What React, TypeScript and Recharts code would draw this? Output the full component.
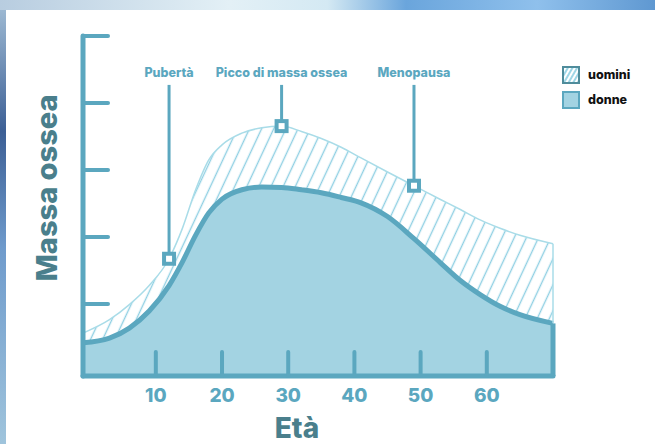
import React from "react";
import {
  ComposedChart, Area, XAxis, YAxis, ReferenceLine, ReferenceDot, Legend,
} from "recharts";

const ages = [-1, 3, 6, 9, 12, 14, 16, 18, 20, 23, 26, 29, 32, 35, 38, 41, 45, 49, 53, 56, 59, 62, 65, 70];
const uomini = [11.3, 15.3, 19.8, 25.5, 33.5, 42.5, 54, 63, 67.5, 71, 72.6, 73.1, 71.5, 69.4, 66.8, 63.6, 59.4, 55.3, 51.2, 48.2, 45.1, 42.6, 40.5, 38];
const donne = [8.4, 9.8, 12.8, 17.9, 25.5, 32.5, 40.5, 47.2, 51.3, 54.1, 54.9, 54.8, 54.1, 53.2, 51.8, 50.2, 46.1, 39.5, 32.3, 27, 22.8, 19.3, 16.8, 14.2];

const xTicks = [10, 20, 30, 40, 50, 60];
const yTicks = [20, 40, 60, 80, 100];
const seriesOrder = ["uomini", "donne"];
const markers = [
  { label: "Pubertà", age: 12 },
  { label: "Picco di massa ossea", age: 29 },
  { label: "Menopausa", age: 49 },
];
const LEADER_TOP = 85.4;
const Y_MIN = -1.5;

const data = ages.map((age, i) => ({ age, uomini: uomini[i], donne: donne[i] }));

const TEAL = "#5ba7bf";
const FILL = "#a3d3e2";
const LIGHT = "#a9dce8";
const DARK = "#4a7f8c";
const FONT = "Inter, 'Open Sans', sans-serif";

const XTick = ({ x, y, payload }: any) => (
  <g>
    <line x1={x} x2={x} y1={y} y2={y - 24} stroke={TEAL} strokeWidth={4} strokeLinecap="round" />
    <text x={x} y={y + 26} textAnchor="middle" fill={TEAL} fontSize={19} fontWeight={800} fontFamily={FONT}>
      {payload.value}
    </text>
  </g>
);

const YTick = ({ x, y }: any) => (
  <line x1={x} x2={x + 25} y1={y} y2={y} stroke={TEAL} strokeWidth={4} strokeLinecap="round" />
);

const Square = ({ cx, cy }: any) => (
  <rect x={cx - 5} y={cy - 5} width={10} height={10} fill="#fff" stroke={TEAL} strokeWidth={4} />
);

const YTitle = ({ viewBox }: any) => {
  const cx = viewBox.x + viewBox.width - 37;
  const cy = viewBox.y + viewBox.height / 2 - 18;
  return (
    <text x={cx} y={cy} transform={`rotate(-90 ${cx} ${cy})`} textAnchor="middle" dominantBaseline="central"
      fill={DARK} fontSize={29} fontWeight={800} fontFamily={FONT}>
      Massa ossea
    </text>
  );
};

const XTitle = ({ viewBox }: any) => {
  const cx = viewBox.x + viewBox.width / 2 - 21;
  return (
    <text x={cx} y={viewBox.y + 52} textAnchor="middle" dominantBaseline="central"
      fill={DARK} fontSize={28} fontWeight={800} fontFamily={FONT}>
      Età
    </text>
  );
};

const LegendBox = ({ payload }: any) => {
  const items = [...(payload || [])].sort(
    (a: any, b: any) => seriesOrder.indexOf(a.dataKey) - seriesOrder.indexOf(b.dataKey)
  );
  return (
    <div style={{ fontFamily: FONT }}>
      {items.map((p: any) => (
        <div key={p.value} style={{ display: "flex", alignItems: "center", height: 25 }}>
          <svg width={18} height={18} style={{ marginRight: 8 }}>
            <defs>
              <pattern id="legendHatch" width="4" height="4" patternUnits="userSpaceOnUse" patternTransform="rotate(30)">
                <rect width="4" height="4" fill="#fff" />
                <line x1="2" y1="0" x2="2" y2="4" stroke="#9ed6e6" strokeWidth="2" />
              </pattern>
            </defs>
            {p.dataKey === "uomini" ? (
              <rect x={1} y={1} width={16} height={16} fill="url(#legendHatch)" stroke="#4f8c9b" strokeWidth={2} />
            ) : (
              <rect x={1} y={1} width={16} height={16} fill={FILL} stroke={TEAL} strokeWidth={2} />
            )}
          </svg>
          <span style={{ fontSize: 12.5, fontWeight: 800, color: "#111" }}>{p.value}</span>
        </div>
      ))}
    </div>
  );
};

export default function App() {
  const lastU = uomini[uomini.length - 1];
  const lastD = donne[donne.length - 1];
  const lastAge = ages[ages.length - 1];
  return (
    <div style={{
      position: "absolute", left: 0, top: 0, width: 655, height: 444, overflow: "hidden",
      background: "linear-gradient(90deg, #b8cde0 0%, #e3f0f6 35%, #d4e9f3 50%, #6aa5dc 62%, #8fc0ec 82%, #5f98d1 100%)",
    }}>
      <div style={{
        position: "absolute", left: 0, top: 10, width: 6, height: 434,
        background: "linear-gradient(180deg, #9cb8d2 0%, #3c5f95 28%, #6f9bcc 55%, #9fc4dc 100%)",
      }} />
      <div style={{ position: "absolute", left: 6, top: 10, width: 649, height: 434, background: "#fff" }} />
      <div style={{ position: "absolute", left: 0, top: 0 }}>
        <ComposedChart width={655} height={444} data={data} margin={{ top: 36, right: 102, bottom: 8, left: 43 }}>
          <defs>
            <pattern id="hatch" width="11" height="11" patternUnits="userSpaceOnUse" patternTransform="rotate(25)">
              <rect width="11" height="11" fill="#fff" />
              <line x1="5.5" y1="0" x2="5.5" y2="11" stroke="#8fd0e3" strokeWidth="1.4" />
            </pattern>
          </defs>
          <Area
            type="monotone" dataKey="uomini" name="uomini"
            stroke={LIGHT} strokeWidth={1.5} fill="url(#hatch)" fillOpacity={1}
            baseValue="dataMin" isAnimationActive={false}
          />
          <Area
            type="monotone" dataKey="donne" name="donne"
            stroke={TEAL} strokeWidth={5} fill={FILL} fillOpacity={1}
            baseValue="dataMin" isAnimationActive={false}
          />
          <ReferenceLine segment={[{ x: lastAge, y: lastD }, { x: lastAge, y: lastU }]} stroke={LIGHT} strokeWidth={1.5} />
          <ReferenceLine segment={[{ x: lastAge, y: Y_MIN }, { x: lastAge, y: lastD }]} stroke={TEAL} strokeWidth={5} />
          {markers.map((m) => {
            const u = uomini[ages.indexOf(m.age)];
            return (
              <ReferenceLine
                key={m.label}
                segment={[{ x: m.age, y: u }, { x: m.age, y: LEADER_TOP }]}
                stroke={TEAL} strokeWidth={3}
                label={{ value: m.label, position: "top", offset: 8, fill: TEAL, fontSize: 12.5, fontWeight: 800, fontFamily: FONT }}
              />
            );
          })}
          {markers.map((m) => (
            <ReferenceDot key={m.label} x={m.age} y={uomini[ages.indexOf(m.age)]} shape={Square} />
          ))}
          <XAxis
            type="number" dataKey="age" domain={[-1, 70]} ticks={xTicks} height={60}
            tickSize={0} tickMargin={0} tick={XTick} tickLine={false}
            axisLine={{ stroke: TEAL, strokeWidth: 5, strokeLinecap: "round" }}
            label={{ content: XTitle }}
          />
          <YAxis
            type="number" domain={[Y_MIN, 100]} ticks={yTicks} width={40}
            tickSize={0} tickMargin={0} tick={YTick} tickLine={false}
            axisLine={{ stroke: TEAL, strokeWidth: 5, strokeLinecap: "round" }}
            label={{ content: YTitle }}
          />
          <Legend
            content={LegendBox} layout="vertical" align="center" verticalAlign="middle"
            wrapperStyle={{ left: 562, top: 62, width: 90 }}
          />
        </ComposedChart>
      </div>
    </div>
  );
}
